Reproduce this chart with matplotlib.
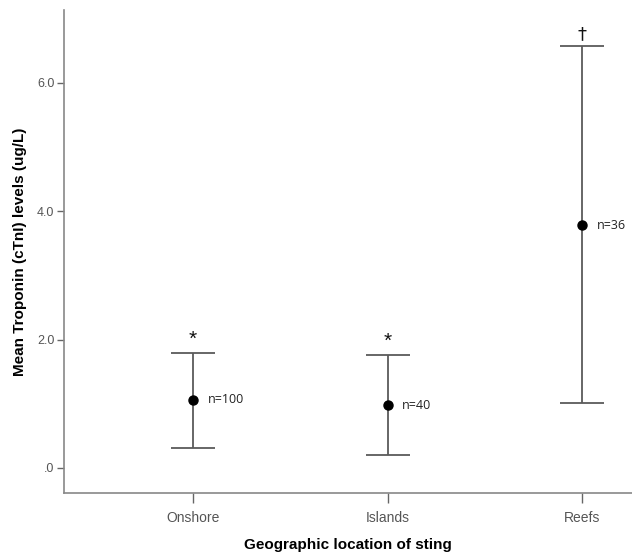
import matplotlib
matplotlib.use("Agg")
import matplotlib.pyplot as plt

categories = ["Onshore", "Islands", "Reefs"]
means = [1.06, 0.98, 3.78]
upper = [1.79, 1.76, 6.57]
lower = [0.31, 0.20, 1.01]
n_labels = ["n=100", "n=40", "n=36"]
sig_marks = ["*", "*", "\u2020"]
yticks = [0.0, 2.0, 4.0, 6.0]
ytick_labels = [".0", "2.0", "4.0", "6.0"]

fig = plt.figure(figsize=(6.32, 5.53), dpi=100)
W, H = 632, 553
ax = fig.add_axes([64 / W, 1 - 493 / H, 1 - 64 / W, (493 - 10) / H])

x = list(range(len(categories)))
err_low = [m - l for m, l in zip(means, lower)]
err_high = [u - m for m, u in zip(means, upper)]
ax.errorbar(x, means, yerr=[err_low, err_high], fmt="none", ecolor="#5a5a5a",
            elinewidth=1.3, capsize=16, capthick=1.3, zorder=2)
ax.plot(x, means, "o", color="black", markersize=6.5, zorder=3)

for xi, m, u, nl, sm in zip(x, means, upper, n_labels, sig_marks):
    ax.annotate(nl, (xi, m), xytext=(10.5, 0), textcoords="offset points",
                ha="left", va="center", fontsize=9, color="#222222",
                family="Open Sans")
    if sm == "*":
        ax.annotate(sm, (xi, u), xytext=(0, 3), textcoords="offset points",
                    ha="center", va="bottom", fontsize=15, color="#111111",
                    family="Liberation Sans")
    else:
        ax.annotate(sm, (xi, u), xytext=(0, 2), textcoords="offset points",
                    ha="center", va="bottom", fontsize=13, color="#111111",
                    family="DejaVu Sans")

ax.set_xlim((64 - 193) / 194.5, (632 - 193) / 194.5)
ax.set_ylim((468 - 493) / 64.25, (468 - 10) / 64.25)
ax.set_xticks(x)
ax.set_xticklabels(categories, family="Liberation Sans", fontsize=10, color="#555555")
ax.set_yticks(yticks)
ax.set_yticklabels(ytick_labels, family="Liberation Sans", fontsize=9, color="#555555")

for s in ["top", "right"]:
    ax.spines[s].set_visible(False)
for s in ["left", "bottom"]:
    ax.spines[s].set_color("#888888")
    ax.spines[s].set_linewidth(1.2)
ax.tick_params(axis="both", direction="out", color="#666666", width=1.0)
ax.tick_params(axis="y", length=5, pad=2)
ax.tick_params(axis="x", length=7, pad=6)

ax.set_xlabel("Geographic location of sting", fontsize=11, fontweight="bold",
              family="Liberation Sans", labelpad=9)
ax.set_ylabel("Mean Troponin (cTnI) levels (ug/L)", fontsize=11, fontweight="bold",
              family="Liberation Sans", labelpad=7)

fig.savefig("out.png", dpi=100)
